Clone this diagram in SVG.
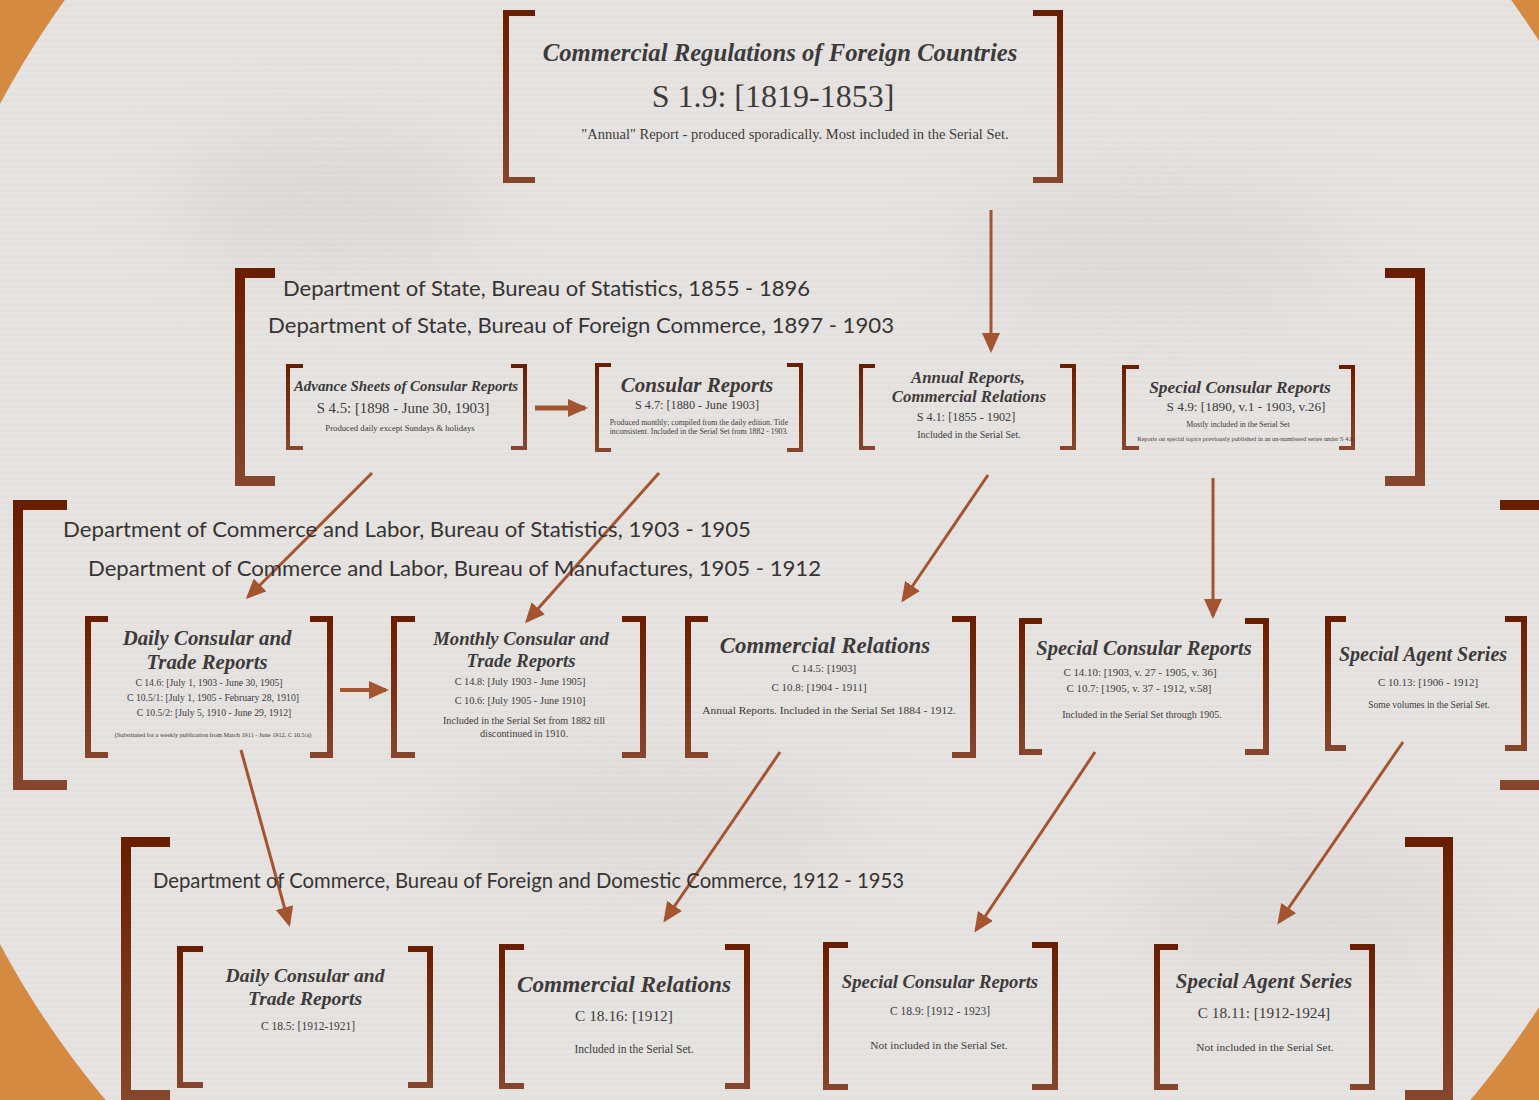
<svg xmlns="http://www.w3.org/2000/svg" width="1539" height="1100" viewBox="0 0 1539 1100">
<defs>
<linearGradient id="bg" x1="0" y1="0" x2="0" y2="1">
<stop offset="0" stop-color="#6a1e00"/>
<stop offset="1" stop-color="#86462c"/>
</linearGradient>
<pattern id="stripes" width="8" height="6" patternUnits="userSpaceOnUse">
<rect width="8" height="3" fill="#ffffff" opacity="0.12"/>
</pattern>
<filter id="blur" x="-50%" y="-50%" width="200%" height="200%"><feGaussianBlur stdDeviation="40"/></filter>
<marker id="ah" markerUnits="userSpaceOnUse" markerWidth="20" markerHeight="18" refX="17" refY="9" orient="auto">
<path d="M0,0 L20,9 L0,18 Z" fill="#a4542f"/>
</marker>
<style>
.br{fill:none;stroke:url(#bg);stroke-width:4;stroke-linejoin:miter}
.brm{fill:none;stroke:url(#bg);stroke-width:6;stroke-linejoin:miter}
.brl{fill:none;stroke:url(#bg);stroke-width:10;stroke-linejoin:miter}
.ar{stroke:#a4542f;stroke-width:3;fill:none;marker-end:url(#ah)}
text{font-family:"Liberation Serif","Times New Roman",serif;fill:#3d3b3a;text-anchor:middle}
.t{font-weight:bold;font-style:italic}
.d{font-family:Lato,"Open Sans",sans-serif;font-size:21px;text-anchor:start;fill:#363433}
</style>
</defs>
<rect width="1539" height="1100" fill="#d48a40"/>
<circle cx="788" cy="524" r="893" fill="#e3e0de"/>
<g opacity="0.35" filter="url(#blur)">
<ellipse cx="330" cy="200" rx="160" ry="70" fill="#c9c6c4"/>
<ellipse cx="1150" cy="250" rx="200" ry="80" fill="#cfcccb"/>
<ellipse cx="650" cy="820" rx="220" ry="60" fill="#cdcac8"/>
<ellipse cx="1300" cy="900" rx="180" ry="70" fill="#cdcac8"/>
</g>
<circle cx="788" cy="524" r="893" fill="url(#stripes)"/>

<g id="connectors">
<line class="ar" x1="991" y1="210" x2="991" y2="350"/>
<line class="ar" x1="535" y1="408" x2="585" y2="408" style="stroke-width:5"/>
<line class="ar" x1="372" y1="473" x2="248" y2="597"/>
<line class="ar" x1="659" y1="473" x2="527" y2="621"/>
<line class="ar" x1="988" y1="475" x2="903" y2="600"/>
<line class="ar" x1="1213" y1="478" x2="1213" y2="616"/>
<line class="ar" x1="340" y1="690" x2="386" y2="690" style="stroke-width:4"/>
<line class="ar" x1="241" y1="750" x2="289" y2="924"/>
<line class="ar" x1="780" y1="752" x2="665" y2="920"/>
<line class="ar" x1="1095" y1="752" x2="976" y2="930"/>
<line class="ar" x1="1403" y1="742" x2="1279" y2="922"/>
</g>

<g id="n-top">
<path class="brm" d="M535,13 H506 V180 H535"/>
<path class="brm" d="M1033,13 H1060 V180 H1033"/>
<text class="t" x="780" y="61" font-size="24.7">Commercial Regulations of Foreign Countries</text>
<text x="773" y="107" font-size="32">S 1.9: [1819-1853]</text>
<text x="795" y="139" font-size="14.5">"Annual" Report - produced sporadically. Most included in the Serial Set.</text>
</g>

<g id="dept-state">
<path class="brl" d="M275,273 H240 V481 H275"/>
<path class="brl" d="M1385,273 H1420 V481 H1385"/>
<text class="d" x="283" y="296" textLength="527" lengthAdjust="spacingAndGlyphs">Department of State, Bureau of Statistics, 1855 - 1896</text>
<text class="d" x="268" y="333" textLength="626" lengthAdjust="spacingAndGlyphs">Department of State, Bureau of Foreign Commerce, 1897 - 1903</text>
</g>

<g id="n-advance">
<path class="br" d="M303,366 H288 V448 H303"/>
<path class="br" d="M511,366 H525 V448 H511"/>
<text class="t" x="406" y="391" font-size="14.9">Advance Sheets of Consular Reports</text>
<text x="403" y="413" font-size="14.8">S 4.5: [1898 - June 30, 1903]</text>
<text x="400" y="431" font-size="8.7">Produced daily except Sundays &amp; holidays</text>
</g>

<g id="n-consular">
<path class="br" d="M611,365 H597 V450 H611"/>
<path class="br" d="M787,365 H801 V450 H787"/>
<text class="t" x="697" y="392" font-size="21">Consular Reports</text>
<text x="697" y="409" font-size="12.2">S 4.7: [1880 - June 1903]</text>
<text x="699" y="425" font-size="7.8">Produced monthly; compiled from the daily edition. Title</text>
<text x="699" y="434" font-size="7.8">inconsistent. Included in the Serial Set from 1882 - 1903.</text>
</g>

<g id="n-annual">
<path class="br" d="M875,366 H861 V448 H875"/>
<path class="br" d="M1060,366 H1074 V448 H1060"/>
<text class="t" x="968" y="383" font-size="16.8">Annual Reports,</text>
<text class="t" x="969" y="402" font-size="16.8">Commercial Relations</text>
<text x="966" y="421" font-size="12.2">S 4.1: [1855 - 1902]</text>
<text x="969" y="438" font-size="10">Included in the Serial Set.</text>
</g>

<g id="n-special-state">
<path class="br" d="M1139,367 H1124 V448 H1139"/>
<path class="br" d="M1339,367 H1353 V448 H1339"/>
<text class="t" x="1240" y="393" font-size="17.3">Special Consular Reports</text>
<text x="1246" y="411" font-size="13.3">S 4.9: [1890, v.1 - 1903, v.26]</text>
<text x="1238" y="427" font-size="7.9">Mostly included in the Serial Set</text>
<text x="1246" y="441" font-size="6.4">Reports on special topics previously published in an un-numbered series under S 4.8.</text>
</g>

<g id="dept-commerce-labor">
<path class="brl" d="M67,505 H18 V785 H67"/>
<path class="brl" d="M1500,505 H1545 V785 H1500"/>
<text class="d" x="63" y="537" textLength="688" lengthAdjust="spacingAndGlyphs">Department of Commerce and Labor, Bureau of Statistics, 1903 - 1905</text>
<text class="d" x="88" y="576" textLength="733" lengthAdjust="spacingAndGlyphs">Department of Commerce and Labor, Bureau of Manufactures, 1905 - 1912</text>
</g>

<g id="n-daily-cl">
<path class="brm" d="M108,619 H88 V755 H108"/>
<path class="brm" d="M310,619 H330 V755 H310"/>
<text class="t" x="207" y="645" font-size="20.8">Daily Consular and</text>
<text class="t" x="207" y="669" font-size="20.8">Trade Reports</text>
<text x="209" y="686" font-size="9.7">C 14.6: [July 1, 1903 - June 30, 1905]</text>
<text x="213" y="701" font-size="9.7">C 10.5/1: [July 1, 1905 - February 28, 1910]</text>
<text x="214" y="716" font-size="9.7">C 10.5/2: [July 5, 1910 - June 29, 1912]</text>
<text x="213" y="737" font-size="6.3">(Substituted for a weekly publication from March 1911 - June 1912, C 10.5/a)</text>
</g>

<g id="n-monthly-cl">
<path class="brm" d="M415,619 H394 V755 H415"/>
<path class="brm" d="M622,619 H643 V755 H622"/>
<text class="t" x="521" y="645" font-size="18.7">Monthly Consular and</text>
<text class="t" x="521" y="667" font-size="18.7">Trade Reports</text>
<text x="520" y="685" font-size="10.3">C 14.8: [July 1903 - June 1905]</text>
<text x="520" y="704" font-size="10.3">C 10.6: [July 1905 - June 1910]</text>
<text x="524" y="724" font-size="10.2">Included in the Serial Set from 1882 till</text>
<text x="524" y="737" font-size="10.2">discontinued in 1910.</text>
</g>

<g id="n-comrel-cl">
<path class="brm" d="M708,619 H688 V755 H708"/>
<path class="brm" d="M952,619 H973 V755 H952"/>
<text class="t" x="825" y="653" font-size="22.9">Commercial Relations</text>
<text x="824" y="672" font-size="11">C 14.5: [1903]</text>
<text x="819" y="691" font-size="11">C 10.8: [1904 - 1911]</text>
<text x="829" y="714" font-size="11.4">Annual Reports. Included in the Serial Set 1884 - 1912.</text>
</g>

<g id="n-special-cl">
<path class="brm" d="M1042,621 H1022 V752 H1042"/>
<path class="brm" d="M1245,621 H1266 V752 H1245"/>
<text class="t" x="1144" y="655" font-size="20.5">Special Consular Reports</text>
<text x="1140" y="676" font-size="10.9">C 14.10: [1903, v. 27 - 1905, v. 36]</text>
<text x="1139" y="692" font-size="10.9">C 10.7: [1905, v. 37 - 1912, v.58]</text>
<text x="1142" y="718" font-size="10">Included in the Serial Set through 1905.</text>
</g>

<g id="n-agent-cl">
<path class="brm" d="M1346,619 H1328 V748 H1346"/>
<path class="brm" d="M1505,619 H1524 V748 H1505"/>
<text class="t" x="1423" y="661" font-size="20">Special Agent Series</text>
<text x="1428" y="686" font-size="10.9">C 10.13: [1906 - 1912]</text>
<text x="1429" y="708" font-size="9.5">Some volumes in the Serial Set.</text>
</g>

<g id="dept-commerce">
<path class="brl" d="M170,842 H126 V1095 H170"/>
<path class="brl" d="M1405,842 H1448 V1095 H1405"/>
<text class="d" x="153" y="888" textLength="751" lengthAdjust="spacingAndGlyphs">Department of Commerce, Bureau of Foreign and Domestic Commerce, 1912 - 1953</text>
</g>

<g id="n-daily-c">
<path class="brm" d="M203,949 H180 V1085 H203"/>
<path class="brm" d="M408,949 H430 V1085 H408"/>
<text class="t" x="305" y="982" font-size="19.6">Daily Consular and</text>
<text class="t" x="305" y="1005" font-size="19.6">Trade Reports</text>
<text x="308" y="1030" font-size="11.5">C 18.5: [1912-1921]</text>
</g>

<g id="n-comrel-c">
<path class="brm" d="M524,947 H502 V1086 H524"/>
<path class="brm" d="M725,947 H747 V1086 H725"/>
<text class="t" x="624" y="992" font-size="23.3">Commercial Relations</text>
<text x="624" y="1021" font-size="15.4">C 18.16: [1912]</text>
<text x="634" y="1053" font-size="11.5">Included in the Serial Set.</text>
</g>

<g id="n-special-c">
<path class="brm" d="M848,945 H826 V1087 H848"/>
<path class="brm" d="M1032,945 H1055 V1087 H1032"/>
<text class="t" x="940" y="988" font-size="18.7">Special Consular Reports</text>
<text x="940" y="1015" font-size="11.5">C 18.9: [1912 - 1923]</text>
<text x="939" y="1049" font-size="11.4">Not included in the Serial Set.</text>
</g>

<g id="n-agent-c">
<path class="brm" d="M1178,947 H1157 V1087 H1178"/>
<path class="brm" d="M1350,947 H1372 V1087 H1350"/>
<text class="t" x="1264" y="988" font-size="21">Special Agent Series</text>
<text x="1264" y="1018" font-size="15.3">C 18.11: [1912-1924]</text>
<text x="1265" y="1051" font-size="11.4">Not included in the Serial Set.</text>
</g>
</svg>
